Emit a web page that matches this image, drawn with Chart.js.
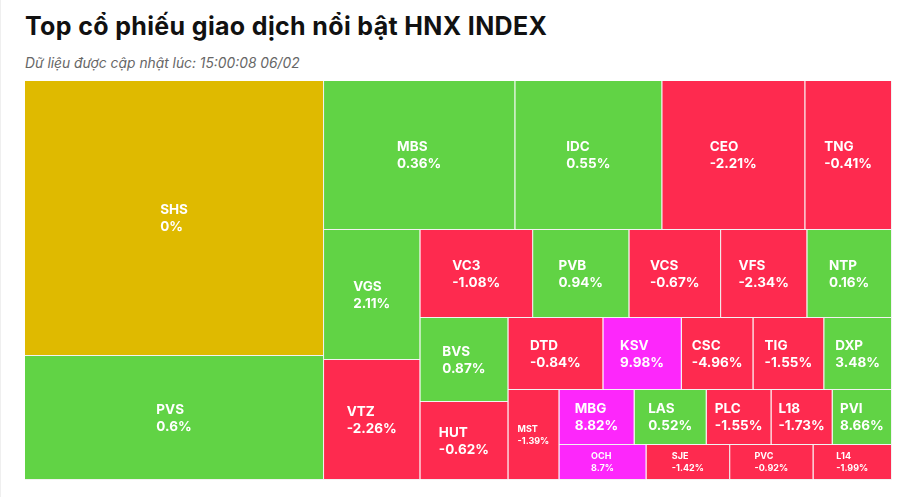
<!DOCTYPE html>
<html>
<head>
<meta charset="utf-8">
<script src="https://cdn.jsdelivr.net/npm/chart.js@4.4.1/dist/chart.umd.min.js"></script>
<style>
  html, body { margin: 0; padding: 0; background: #fff; width: 912px; height: 497px; overflow: hidden; font-family: Inter, "Noto Sans", sans-serif; }
  #card { position: absolute; left: 1px; top: -8px; width: 940px; height: 530px; background: #fff; box-shadow: 0 0 4px rgba(0,0,0,0.16); }
  #title { position: absolute; left: 25px; top: 11px; margin: 0; font-size: 25px; letter-spacing: 0.35px; font-weight: 700; color: #111; white-space: nowrap; line-height: normal; }
  #sub { position: absolute; left: 25px; top: 55px; font-size: 13.8px; font-style: italic; color: #666; white-space: nowrap; line-height: normal; }
  #wrap { position: absolute; left: 25px; top: 81px; width: 867px; height: 399px; }
</style>
</head>
<body>
<div id="card"></div>
<div id="title">Top cổ phiếu giao dịch nổi bật HNX INDEX</div>
<div id="sub">Dữ liệu được cập nhật lúc: 15:00:08 06/02</div>
<div id="wrap"><canvas id="c"></canvas></div>
<script>
// ---- data ----
const tickers = ['SHS','PVS','MBS','IDC','CEO','TNG','VGS','VTZ','VC3','PVB','VCS','VFS','NTP','BVS','HUT','DTD','KSV','CSC','TIG','DXP','MST','MBG','LAS','PLC','L18','PVI','OCH','SJE','PVC','L14'];
// trading value (relative size of each cell)
const tradingValues = [82.23, 37.08, 28.50, 21.90, 21.31, 12.92, 12.52, 11.56, 9.92, 8.47, 8.07, 7.59, 7.45, 7.39, 6.87, 6.84, 5.65, 5.16, 5.10, 4.88, 4.59, 4.13, 3.96, 3.56, 3.36, 3.26, 3.05, 2.93, 2.92, 2.75];
// price change, %
const changes = [0, 0.6, 0.36, 0.55, -2.21, -0.41, 2.11, -2.26, -1.08, 0.94, -0.67, -2.34, 0.16, 0.87, -0.62, -0.84, 9.98, -4.96, -1.55, 3.48, -1.39, 8.82, 0.52, -1.55, -1.73, 8.66, 8.7, -1.42, -0.92, -1.99];
// price status: ref / up / down / ceil
const statuses = ['ref','up','up','up','down','down','up','down','down','up','down','down','up','up','down','down','ceil','down','down','up','down','ceil','up','down','down','up','ceil','down','down','down'];

const statusColors = { ref: '#dfba00', up: '#61d345', down: '#fe2a4f', ceil: '#fd27fb' };

// ---- Highcharts-like squarified layout (alternating direction) ----
function makeGroup(h, w, d, plot) {
  const ar = (a, b) => Math.max(a / b, b / a);
  return {
    height: h, width: w, plot: plot, direction: d, total: 0,
    nW: 0, lW: 0, nH: 0, lH: 0, elArr: [],
    lP: { total: 0, lH: 0, nH: 0, lW: 0, nW: 0, nR: 0, lR: 0 },
    addElement(el) {
      this.lP.total = this.elArr[this.elArr.length - 1];
      this.total += el;
      if (this.direction === 0) {
        this.lW = this.nW;
        this.lP.lH = this.lP.total / this.lW;
        this.lP.lR = ar(this.lW, this.lP.lH);
        this.nW = this.total / this.height;
        this.lP.nH = this.lP.total / this.nW;
        this.lP.nR = ar(this.nW, this.lP.nH);
      } else {
        this.lH = this.nH;
        this.lP.lW = this.lP.total / this.lH;
        this.lP.lR = ar(this.lP.lW, this.lH);
        this.nH = this.total / this.width;
        this.lP.nW = this.lP.total / this.nH;
        this.lP.nR = ar(this.lP.nW, this.nH);
      }
      this.elArr.push(el);
    },
    reset() { this.nW = 0; this.lW = 0; this.elArr = []; this.total = 0; }
  };
}
function calcPoints(last, g, out) {
  let gW = g.lW, gH = g.lH, keep;
  const plot = g.plot, end = g.elArr.length - 1;
  if (last) { gW = g.nW; gH = g.nH; } else { keep = g.elArr[end]; }
  g.elArr.forEach((p, i) => {
    if (last || i < end) {
      let pW, pH;
      if (g.direction === 0) { pW = gW; pH = p / pW; } else { pH = gH; pW = p / pH; }
      out.push({ x: plot.x, y: plot.y, width: pW, height: pH });
      if (g.direction === 0) plot.y += pH; else plot.x += pW;
    }
  });
  g.reset();
  if (g.direction === 0) g.width -= gW; else g.height -= gH;
  plot.y = plot.parent.y + (plot.parent.height - g.height);
  plot.x = plot.parent.x + (plot.parent.width - g.width);
  g.direction = 1 - g.direction;
  if (!last) g.addElement(keep);
}
function squarified(parent, values) {
  const total = values.reduce((a, b) => a + b, 0);
  const out = [];
  const plot = { x: parent.x, y: parent.y, parent: parent };
  const g = makeGroup(parent.height, parent.width, parent.direction, plot);
  values.forEach((v, i) => {
    g.addElement(parent.width * parent.height * (v / total));
    if (g.lP.nR > g.lP.lR) calcPoints(false, g, out);
    if (i === values.length - 1) calcPoints(true, g, out);
  });
  return out;
}

// ---- custom Chart.js controller using BarElement rectangles ----
class TreemapController extends Chart.DatasetController {
  parse(start, count) {
    const meta = this._cachedMeta;
    for (let i = start; i < start + count; i++) meta._parsed[i] = { x: 0, y: 0 };
  }
  update(mode) {
    const meta = this._cachedMeta;
    this.updateElements(meta.data, 0, meta.data.length, mode);
  }
  updateElements(rects, start, count, mode) {
    const meta = this._cachedMeta;
    const ds = this.getDataset();
    const xs = meta.xScale, ys = meta.yScale;
    const boxes = squarified({ x: xs.min, y: ys.min, width: xs.max - xs.min, height: ys.max - ys.min, direction: 0 }, ds.data);
    for (let i = start; i < start + count; i++) {
      const b = boxes[i];
      const left = xs.getPixelForValue(b.x), right = xs.getPixelForValue(b.x + b.width);
      const top = ys.getPixelForValue(b.y), bottom = ys.getPixelForValue(b.y + b.height);
      Object.assign(rects[i], {
        x: (left + right) / 2, y: top, base: bottom, width: right - left, height: bottom - top,
        horizontal: false, borderSkipped: {}, inflateAmount: 0, enableBorderRadius: false,
        options: {
          backgroundColor: ds.backgroundColor[i],
          borderColor: ds.borderColor,
          borderWidth: { top: 0, left: 0, right: 1, bottom: 1 },
          borderRadius: 0
        }
      });
    }
  }
}
TreemapController.id = 'hctreemap';
TreemapController.defaults = { datasetElementType: false, dataElementType: 'bar' };
TreemapController.overrides = { scales: { x: { type: 'linear' }, y: { type: 'linear' } } };
Chart.register(TreemapController);

const fmtChange = v => String(v) + '%';

const labelPlugin = {
  id: 'cellLabels',
  afterDatasetsDraw(chart) {
    const meta = chart.getDatasetMeta(0);
    const ctx = chart.ctx;
    ctx.save();
    ctx.fillStyle = '#ffffff';
    ctx.textAlign = 'left';
    ctx.textBaseline = 'alphabetic';
    meta.data.forEach((el, i) => {
      const p = el.getProps(['x', 'y', 'base', 'width']);
      const w = p.width - 1, h = p.base - p.y - 1;
      const small = w < 55 || h < 40;
      const fs = small ? 9 : 13.5;
      const lh = small ? 12 : 17;
      const cap = fs * 0.727;
      ctx.font = 'bold ' + fs + 'px Inter, "Noto Sans", sans-serif';
      const lines = [tickers[i], fmtChange(changes[i])];
      const bw = Math.max(...lines.map(t => ctx.measureText(t).width));
      const cx = p.x - p.width / 2 + w / 2;
      const cy = p.y + h / 2;
      const b1 = cy - (lh - cap) / 2;
      ctx.fillText(lines[0], cx - bw / 2, b1);
      ctx.fillText(lines[1], cx - bw / 2, b1 + lh);
    });
    ctx.restore();
  }
};

new Chart(document.getElementById('c'), {
  type: 'hctreemap',
  data: {
    labels: tickers,
    datasets: [{
      data: tradingValues,
      backgroundColor: statuses.map(s => statusColors[s]),
      borderColor: '#f2f2f2'
    }]
  },
  options: {
    responsive: true,
    maintainAspectRatio: false,
    animation: false,
    events: [],
    layout: { padding: 0, autoPadding: false },
    scales: {
      x: { type: 'linear', min: 0, max: 867, display: false },
      y: { type: 'linear', min: 0, max: 399, reverse: true, display: false }
    },
    plugins: { legend: { display: false }, tooltip: { enabled: false }, title: { display: false } }
  },
  plugins: [labelPlugin]
});
</script>
</body>
</html>
